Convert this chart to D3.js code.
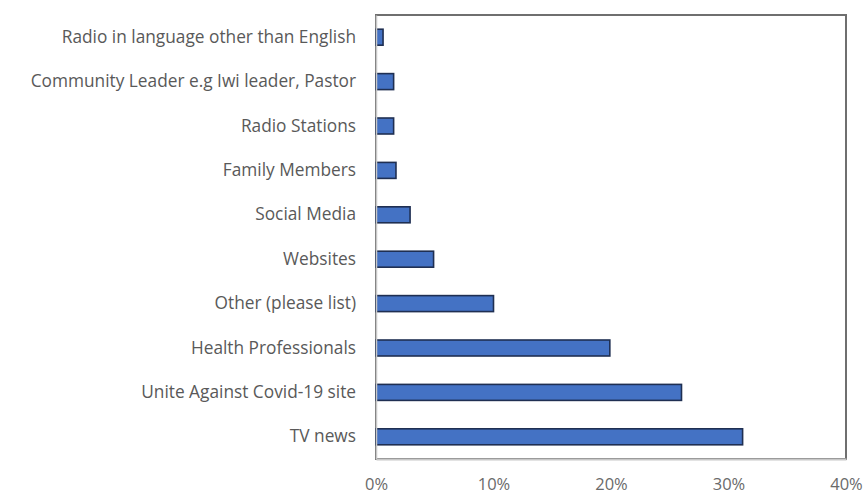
<!DOCTYPE html>
<html>
<head>
<meta charset="utf-8">
<script src="https://cdn.jsdelivr.net/npm/d3@7/dist/d3.min.js"></script>
<style>
  html, body { margin: 0; padding: 0; background: #fff; }
  svg { display: block; }
  text { font-family: "Open Sans", Lato, sans-serif; }
</style>
</head>
<body>
<svg id="chart" width="866" height="495"></svg>
<script>
// Sources of information (share of respondents)
const categories = [
  "Radio in language other than English",
  "Community Leader e.g Iwi leader, Pastor",
  "Radio Stations",
  "Family Members",
  "Social Media",
  "Websites",
  "Other (please list)",
  "Health Professionals",
  "Unite Against Covid-19 site",
  "TV news"
];
const values = [0.006, 0.015, 0.015, 0.017, 0.029, 0.049, 0.10, 0.199, 0.26, 0.312];
const tickValues = [0, 0.1, 0.2, 0.3, 0.4];
const tickLabels = ["0%", "10%", "20%", "30%", "40%"];

const svg = d3.select("#chart");
const plot = { left: 376, right: 846, top: 15, bottom: 459 };

const x = d3.scaleLinear().domain([0, 0.4]).range([plot.left, plot.right]);
const y = d3.scaleBand().domain(categories).range([plot.top, plot.bottom]).paddingInner(0.64).paddingOuter(0.32);

// plot-area frame
svg.append("rect")
  .attr("x", plot.left).attr("y", plot.top)
  .attr("width", plot.right - plot.left).attr("height", plot.bottom - plot.top)
  .attr("fill", "none").attr("stroke", "#6f6f6f").attr("stroke-width", 2);

// bars
svg.append("g").selectAll("rect")
  .data(categories)
  .join("rect")
  .attr("x", x(0))
  .attr("y", d => y(d))
  .attr("width", (d, i) => x(values[i]) - x(0))
  .attr("height", y.bandwidth())
  .attr("fill", "#4472c4")
  .attr("stroke", "#1f2f52")
  .attr("stroke-width", 1.6);

// category axis
const yAxis = svg.append("g")
  .attr("transform", `translate(${plot.left},0)`)
  .call(d3.axisLeft(y).tickSize(0).tickPadding(20));
yAxis.select(".domain").attr("stroke", "#c8c8c8").attr("stroke-width", 1.5);
yAxis.selectAll("text").attr("fill", "#595959").attr("font-size", 17.3);

// value axis
const xAxis = svg.append("g")
  .attr("transform", `translate(0,${plot.bottom})`)
  .call(d3.axisBottom(x).tickValues(tickValues).tickSize(0).tickPadding(19)
    .tickFormat((d, i) => tickLabels[i]));
xAxis.select(".domain").attr("stroke", "#c8c8c8").attr("stroke-width", 2);
xAxis.selectAll("text").attr("fill", "#6a6a6a").attr("font-size", 16.5);
</script>
</body>
</html>
